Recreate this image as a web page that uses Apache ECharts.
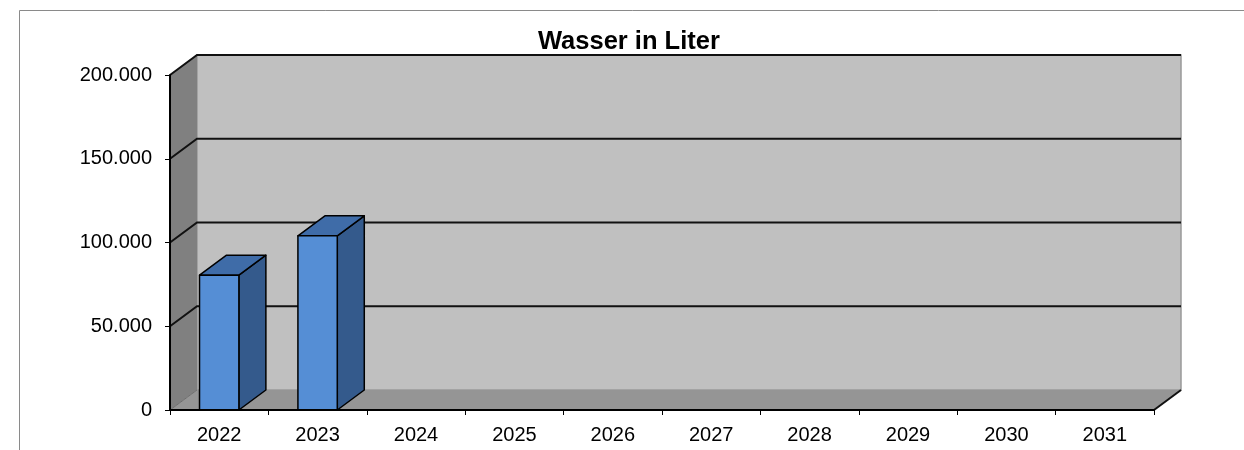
<!DOCTYPE html>
<html>
<head>
<meta charset="utf-8">
<script src="https://cdn.jsdelivr.net/npm/echarts@6/dist/echarts.min.js"></script>
<style>
  html, body { margin: 0; padding: 0; background: #fff; }
  #chart { width: 1244px; height: 450px; }
</style>
</head>
<body>
<div id="chart"></div>
<script>
var years = ['2022', '2023', '2024', '2025', '2026', '2027', '2028', '2029', '2030', '2031'];
var wasser = [80500, 104000, 0, 0, 0, 0, 0, 0, 0, 0];
var yTicks = [0, 50000, 100000, 150000, 200000];

// depth of the fake 3d box
var DX = 27, DY = -20;

function fmt(v) {
  return String(v).replace(/\B(?=(\d{3})+(?!\d))/g, '.');
}

function renderWalls(params, api) {
  var cs = params.coordSys;
  var x0 = cs.x, x1 = cs.x + cs.width;
  var y0 = api.coord([0, 0])[1];
  var top = api.coord([0, yTicks[yTicks.length - 1]])[1];
  var kids = [];
  // back wall
  kids.push({ type: 'polygon', shape: { points: [[x0 + DX, top + DY], [x1 + DX, top + DY], [x1 + DX, y0 + DY], [x0 + DX, y0 + DY]] },
    style: { fill: '#c0c0c0', stroke: '#999', lineWidth: 1.5 } });
  // side wall
  kids.push({ type: 'polygon', shape: { points: [[x0, y0], [x0, top], [x0 + DX, top + DY], [x0 + DX, y0 + DY]] },
    style: { fill: '#808080', stroke: null } });
  // floor
  kids.push({ type: 'polygon', shape: { points: [[x0, y0], [x1, y0], [x1 + DX, y0 + DY], [x0 + DX, y0 + DY]] },
    style: { fill: '#959595', stroke: null } });
  kids.push({ type: 'line', shape: { x1: x0, y1: y0, x2: x0 + DX, y2: y0 + DY }, style: { stroke: '#6e6e6e', lineWidth: 1 } });
  kids.push({ type: 'line', shape: { x1: x1, y1: y0, x2: x1 + DX, y2: y0 + DY }, style: { stroke: '#111', lineWidth: 2 } });
  // gridlines
  for (var i = 1; i < yTicks.length; i++) {
    var y = api.coord([0, yTicks[i]])[1];
    kids.push({ type: 'polyline', shape: { points: [[x0, y], [x0 + DX, y + DY], [x1 + DX, y + DY]] },
      style: { stroke: '#111', lineWidth: 2, fill: null } });
  }
  return { type: 'group', children: kids };
}

function renderBar(params, api) {
  var val = api.value(1);
  if (!val) return;
  var c = api.coord([api.value(0), val]);
  var b = api.coord([api.value(0), 0]);
  var w = api.size([1, 0])[0] * 0.4;
  var l = c[0] - w / 2, r = c[0] + w / 2, t = c[1], bt = b[1];
  var st = { stroke: '#000', lineWidth: 1.5, lineJoin: 'round' };
  return {
    type: 'group',
    children: [
      { type: 'polygon', shape: { points: [[r, bt], [r + DX, bt + DY], [r + DX, t + DY], [r, t]] },
        style: Object.assign({ fill: '#345a8c' }, st) },
      { type: 'polygon', shape: { points: [[l, t], [r, t], [r + DX, t + DY], [l + DX, t + DY]] },
        style: Object.assign({ fill: '#3f6ca8' }, st) },
      { type: 'rect', shape: { x: l, y: t, width: w, height: bt - t },
        style: Object.assign({ fill: '#558ed5' }, st) }
    ]
  };
}

var chart = echarts.init(document.getElementById('chart'), null, { renderer: 'canvas' });
chart.setOption({
  animation: false,
  backgroundColor: '#fff',
  title: {
    text: 'Wasser in Liter',
    left: 533,
    top: 24,
    textStyle: { fontFamily: 'Liberation Sans', fontSize: 25.5, fontWeight: 'bold', color: '#000' }
  },
  graphic: [{
    type: 'rect', shape: { x: 19.5, y: 10.5, width: 1300, height: 500 },
    style: { fill: null, stroke: '#8a8a8a', lineWidth: 1 }, silent: true, z: -10
  }],
  grid: { left: 170, right: 90, top: 75, bottom: 40 },
  xAxis: {
    type: 'category',
    data: years,
    axisLine: { show: true, lineStyle: { color: '#000', width: 2 } },
    axisTick: { show: true, length: 5, lineStyle: { color: '#000' } },
    axisLabel: { color: '#000', fontFamily: 'Liberation Sans', fontSize: 20, margin: 15 },
    splitLine: { show: false },
    z: 5
  },
  yAxis: {
    type: 'value',
    min: 0,
    max: 200000,
    interval: 50000,
    axisLine: { show: true, lineStyle: { color: '#000', width: 2 } },
    axisTick: { show: true, length: 5, lineStyle: { color: '#000' } },
    axisLabel: { color: '#000', fontFamily: 'Liberation Sans', fontSize: 20, margin: 18, formatter: fmt },
    splitLine: { show: false },
    z: 5
  },
  series: [
    {
      type: 'custom',
      renderItem: renderWalls,
      data: [[0, 0]],
      silent: true,
      z: 1
    },
    {
      name: 'Wasser',
      type: 'custom',
      renderItem: renderBar,
      data: wasser.map(function (v, i) { return [i, v]; }),
      encode: { x: 0, y: 1 },
      z: 3
    }
  ]
});
</script>
</body>
</html>
